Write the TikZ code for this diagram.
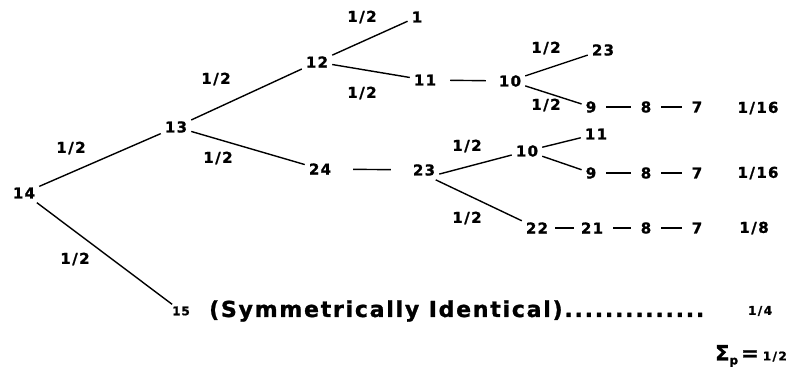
\documentclass[tikz,border=0pt]{standalone}
\usepackage{fontspec}
\newfontfamily\treefont[LetterSpace=8, FakeBold=1.2]{DejaVu Sans Bold}
\newcommand{\fr}[2]{#1\kern1.5pt/\kern1.5pt#2}
\tikzset{
    num/.style={font=\treefont\fontsize{15}{17}\selectfont, inner sep=4pt},
    minor/.style={font=\treefont\fontsize{12}{14}\selectfont, inner sep=2pt},
    branch/.style={line width=1.4pt},
    link/.style={line width=1.4pt, shorten <=6pt, shorten >=6pt},
}
\begin{document}
\begin{tikzpicture}[x=1pt, y=-1pt]
    \useasboundingbox (0,0) rectangle (791,385);
    % tree nodes
    \node[num] (n14) at (24,193) {14};
    \node[num] (n13) at (176,127) {13};
    \node[num] (n12) at (317,62) {12};
    \node[num] (n1) at (417,17) {1};
    \node[num] (n11a) at (425,80) {11};
    \node[num] (n10a) at (510,81) {10};
    \node[num] (n23a) at (603,50) {23};
    \node[num] (n9a) at (591,107) {9};
    \node[num] (n8a) at (646,107) {8};
    \node[num] (n7a) at (697,107) {7};
    \node[num] (n24) at (320,169) {24};
    \node[num] (n23b) at (424,170) {23};
    \node[num] (n10b) at (527,151) {10};
    \node[num] (n11b) at (596,134) {11};
    \node[num] (n9b) at (591,173) {9};
    \node[num] (n8b) at (646,173) {8};
    \node[num] (n7b) at (697,173) {7};
    \node[num] (n22) at (537,228) {22};
    \node[num] (n21) at (592,228) {21};
    \node[num] (n8c) at (646,228) {8};
    \node[num] (n7c) at (697,228) {7};
    \node[minor] (n15) at (181,311) {15};
    \node[num, anchor=west, font=\treefont\fontsize{22}{24}\selectfont] (sym) at (205,311) {(Symmetrically Identical)..............};
    % branch probabilities
    \node[num] (h1) at (71,148) {\fr12};
    \node[num] (h2) at (75,259) {\fr12};
    \node[num] (h3) at (216,79) {\fr12};
    \node[num] (h4) at (218,158) {\fr12};
    \node[num] (h5) at (362,17) {\fr12};
    \node[num] (h6) at (362,93) {\fr12};
    \node[num] (h7) at (546,48) {\fr12};
    \node[num] (h8) at (546,105) {\fr12};
    \node[num] (h9) at (467,146) {\fr12};
    \node[num] (h10) at (467,218) {\fr12};
    % path probabilities
    \node[num] (p1) at (758,108) {\fr1{16}};
    \node[num] (p2) at (758,173) {\fr1{16}};
    \node[num] (p3) at (754,228) {\fr18};
    \node[minor] (p4) at (760,311) {\fr14};
    \node[num, anchor=east] (psum) at (791,356) {{\fontsize{21}{23}\selectfont Σ\raisebox{-4pt}{\fontsize{12}{14}\selectfont p}\kern3pt=\kern4pt}{\fontsize{12}{14}\selectfont\fr12}};
    % connectors
    \draw[branch] (n14) -- (n13);
    \draw[branch] (n14) -- (n15);
    \draw[branch] (n13) -- (n12);
    \draw[branch] (n13) -- (n24);
    \draw[branch] (n12) -- (n1);
    \draw[branch] (n12) -- (n11a);
    \draw[link, shorten <=10pt, shorten >=9pt] (n11a) -- (n10a);
    \draw[branch] (n10a) -- (n23a);
    \draw[branch] (n10a) -- (n9a);
    \draw[link] (n9a) -- (n8a);
    \draw[link] (n8a) -- (n7a);
    \draw[link, shorten <=18pt, shorten >=18pt] (n24) -- (n23b);
    \draw[branch] (n23b.-15) -- (n10b);
    \draw[branch] (n23b.-40) -- (n22);
    \draw[branch] (n10b) -- (n11b);
    \draw[branch] (n10b) -- (n9b);
    \draw[link] (n9b) -- (n8b);
    \draw[link] (n8b) -- (n7b);
    \draw[link, shorten <=3pt, shorten >=3pt] (n22) -- (n21);
    \draw[link] (n21) -- (n8c);
    \draw[link] (n8c) -- (n7c);
\end{tikzpicture}
\end{document}
